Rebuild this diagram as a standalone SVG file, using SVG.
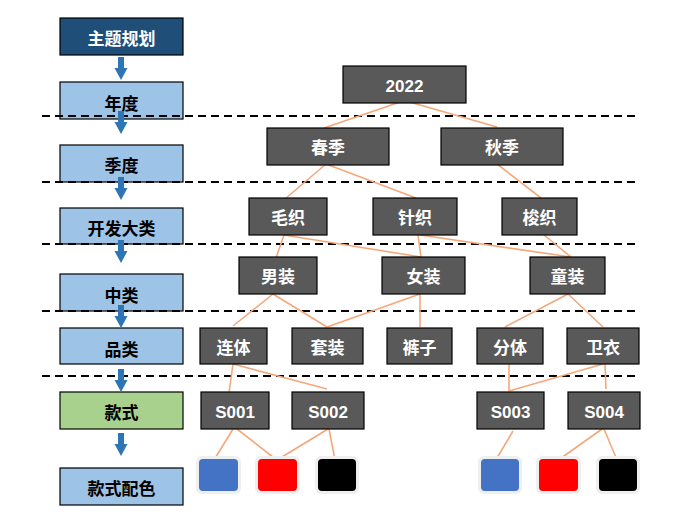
<svg xmlns="http://www.w3.org/2000/svg" width="684" height="512" viewBox="0 0 684 512">
<style>
.lb{fill:#9DC3E6;stroke:#000;stroke-width:1.2}
.dk{fill:#595959;stroke:#000;stroke-width:1.2}
.t{font-family:"Liberation Sans","Noto Sans CJK SC",sans-serif;font-weight:bold;font-size:17px;text-anchor:middle;dominant-baseline:central}
.w{fill:#fff}
.b{fill:#000}
.dash{stroke:#000;stroke-width:2;stroke-dasharray:8 5;fill:none}
.c{stroke:#F4A87A;stroke-width:1.6;fill:none}
.ar{fill:#2E75B6}
.halo{fill:#EFEFEF}
</style>
<defs>
<path id="arr" d="M-3,0 H3 V11 H6.5 L0,23 L-6.5,11 H-3 Z"/>
</defs>
<rect width="684" height="512" fill="#fff"/>
<g id="levels">
<g id="lv-theme"><rect x="60" y="18" width="123" height="37" fill="#1F4E79" stroke="#000" stroke-width="1.2"/><text class="t w" x="121.5" y="39" font-size="18">主题规划</text></g>
<g id="lv-year"><rect class="lb" x="60" y="82" width="123" height="37"/><text class="t b" x="121.5" y="104" font-size="18">年度</text></g>
<g id="lv-season"><rect class="lb" x="60" y="145" width="123" height="37"/><text class="t b" x="121.5" y="166" font-size="18">季度</text></g>
<g id="lv-major"><rect class="lb" x="60" y="208" width="123" height="36"/><text class="t b" x="121.5" y="229" font-size="18">开发大类</text></g>
<g id="lv-mid"><rect class="lb" x="60" y="274" width="123" height="37"/><text class="t b" x="121.5" y="296" font-size="18">中类</text></g>
<g id="lv-cat"><rect class="lb" x="60" y="328" width="123" height="36"/><text class="t b" x="121.5" y="350" font-size="18">品类</text></g>
<g id="lv-style"><rect x="60" y="392" width="123" height="37" fill="#A9D18E" stroke="#000" stroke-width="1.2"/><text class="t b" x="121.5" y="413" font-size="18">款式</text></g>
<g id="lv-color"><rect class="lb" x="60" y="468" width="123" height="37"/><text class="t b" x="121.5" y="489" font-size="18">款式配色</text></g>
</g>
<g id="dashes">
<line class="dash" x1="42" y1="116" x2="636" y2="116"/>
<line class="dash" x1="42" y1="182" x2="636" y2="182"/>
<line class="dash" x1="42" y1="244" x2="636" y2="244"/>
<line class="dash" x1="42" y1="311" x2="636" y2="311"/>
<line class="dash" x1="42" y1="376" x2="636" y2="376"/>
</g>
<g id="arrows" class="ar">
<use href="#arr" x="121" y="57"/>
<use href="#arr" x="121" y="111"/>
<use href="#arr" x="121" y="177"/>
<use href="#arr" x="121" y="240"/>
<use href="#arr" x="121" y="305"/>
<use href="#arr" x="121" y="369"/>
<use href="#arr" x="121" y="433"/>
</g>
<g id="connectors">
<line class="c" x1="403" y1="101" x2="324" y2="128"/>
<line class="c" x1="406" y1="101" x2="497" y2="127"/>
<line class="c" x1="326" y1="164" x2="285" y2="199"/>
<line class="c" x1="326" y1="164" x2="416" y2="198"/>
<line class="c" x1="497" y1="164" x2="541" y2="198"/>
<line class="c" x1="284" y1="235" x2="276" y2="258"/>
<line class="c" x1="284" y1="235" x2="421" y2="257"/>
<line class="c" x1="418" y1="235" x2="421" y2="257"/>
<line class="c" x1="420" y1="235" x2="571" y2="257"/>
<line class="c" x1="544" y1="235" x2="571" y2="257"/>
<line class="c" x1="273" y1="294" x2="233" y2="326"/>
<line class="c" x1="273" y1="294" x2="327" y2="327"/>
<line class="c" x1="420" y1="294" x2="327" y2="327"/>
<line class="c" x1="420" y1="294" x2="420" y2="327"/>
<line class="c" x1="568" y1="294" x2="505" y2="327"/>
<line class="c" x1="568" y1="294" x2="603" y2="327"/>
<line class="c" x1="233" y1="364" x2="229" y2="393"/>
<line class="c" x1="233" y1="364" x2="327" y2="389"/>
<line class="c" x1="509" y1="364" x2="509" y2="391"/>
<line class="c" x1="603" y1="364" x2="509" y2="391"/>
<line class="c" x1="605" y1="364" x2="606" y2="389"/>
<line class="c" x1="233" y1="429" x2="214" y2="460"/>
<line class="c" x1="237" y1="429" x2="278" y2="461"/>
<line class="c" x1="328" y1="429" x2="277" y2="460"/>
<line class="c" x1="329" y1="429" x2="335" y2="460"/>
<line class="c" x1="513" y1="431" x2="497" y2="458"/>
<line class="c" x1="602" y1="429" x2="557" y2="461"/>
<line class="c" x1="604" y1="429" x2="617" y2="460"/>
</g>
<g id="n2022"><rect class="dk" x="343" y="66" width="123" height="37"/><text class="t w" x="404.5" y="86">2022</text></g>
<g id="nSpring"><rect class="dk" x="267" y="128" width="122" height="37"/><text class="t w" x="328" y="148" font-size="18">春季</text></g>
<g id="nAutumn"><rect class="dk" x="441" y="128" width="122" height="37"/><text class="t w" x="502" y="148" font-size="18">秋季</text></g>
<g id="nWool"><rect class="dk" x="249" y="198" width="78" height="37"/><text class="t w" x="288" y="218" font-size="18">毛织</text></g>
<g id="nKnit"><rect class="dk" x="373" y="198" width="84" height="37"/><text class="t w" x="415" y="218" font-size="18">针织</text></g>
<g id="nWoven"><rect class="dk" x="502" y="198" width="75" height="37"/><text class="t w" x="539.5" y="218" font-size="18">梭织</text></g>
<g id="nMen"><rect class="dk" x="239" y="257" width="78" height="37"/><text class="t w" x="278" y="277" font-size="18">男装</text></g>
<g id="nWomen"><rect class="dk" x="382" y="257" width="83" height="37"/><text class="t w" x="423.5" y="277" font-size="18">女装</text></g>
<g id="nKids"><rect class="dk" x="530" y="257" width="75" height="37"/><text class="t w" x="567.5" y="277" font-size="18">童装</text></g>
<g id="nJump"><rect class="dk" x="200" y="328" width="67" height="36"/><text class="t w" x="233.5" y="348" font-size="18">连体</text></g>
<g id="nSuit"><rect class="dk" x="292" y="328" width="71" height="36"/><text class="t w" x="327.5" y="348" font-size="18">套装</text></g>
<g id="nPants"><rect class="dk" x="387" y="328" width="65" height="36"/><text class="t w" x="419.5" y="348" font-size="18">裤子</text></g>
<g id="nSep"><rect class="dk" x="477" y="328" width="66" height="36"/><text class="t w" x="510" y="348" font-size="18">分体</text></g>
<g id="nHood"><rect class="dk" x="567" y="328" width="72" height="36"/><text class="t w" x="603" y="348" font-size="18">卫衣</text></g>
<g id="nS001"><rect class="dk" x="201" y="392" width="68" height="37"/><text class="t w" x="235" y="412">S001</text></g>
<g id="nS002"><rect class="dk" x="292" y="392" width="72" height="37"/><text class="t w" x="328" y="412">S002</text></g>
<g id="nS003"><rect class="dk" x="477" y="392" width="67" height="37"/><text class="t w" x="510.5" y="412">S003</text></g>
<g id="nS004"><rect class="dk" x="568" y="392" width="72" height="37"/><text class="t w" x="604" y="412">S004</text></g>
<g id="swatches">
<g id="sw1"><rect class="halo" x="196" y="456" width="45" height="38" rx="6"/><rect x="199" y="459" width="39" height="32" rx="4" fill="#4472C4"/></g>
<g id="sw2"><rect class="halo" x="255" y="456" width="45" height="38" rx="6"/><rect x="258" y="459" width="39" height="32" rx="4" fill="#FF0000"/></g>
<g id="sw3"><rect class="halo" x="315" y="456" width="44" height="38" rx="6"/><rect x="318" y="459" width="38" height="32" rx="4" fill="#000000"/></g>
<g id="sw4"><rect class="halo" x="478" y="456" width="44" height="38" rx="6"/><rect x="481" y="459" width="38" height="32" rx="4" fill="#4472C4"/></g>
<g id="sw5"><rect class="halo" x="536" y="456" width="45" height="38" rx="6"/><rect x="539" y="459" width="39" height="32" rx="4" fill="#FF0000"/></g>
<g id="sw6"><rect class="halo" x="596" y="456" width="44" height="38" rx="6"/><rect x="599" y="459" width="38" height="32" rx="4" fill="#000000"/></g>
</g>
</svg>
